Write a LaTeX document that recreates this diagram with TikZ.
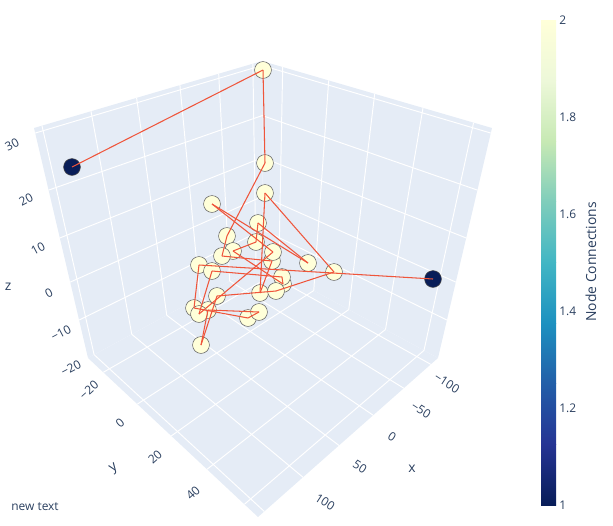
\documentclass[tikz,border=0pt]{standalone}
\usepackage{fontspec}
\setmainfont{Open Sans}
\usetikzlibrary{calc}
\usetikzlibrary{positioning}
\definecolor{pane}{HTML}{E5ECF6}
\definecolor{axtext}{HTML}{2A3F5F}
\definecolor{linkred}{HTML}{EF553B}
\definecolor{cb0}{RGB}{8,29,88}
\definecolor{cb1}{RGB}{37,52,148}
\definecolor{cb2}{RGB}{34,94,168}
\definecolor{cb3}{RGB}{29,145,192}
\definecolor{cb4}{RGB}{65,182,196}
\definecolor{cb5}{RGB}{127,205,187}
\definecolor{cb6}{RGB}{199,233,180}
\definecolor{cb7}{RGB}{237,248,217}
\definecolor{cb8}{RGB}{255,255,217}
\tikzset{
    mynodey/.style = {circle, draw=gray!75!black, line width=0.3pt, fill=cb8, minimum size=9.6pt, inner sep=0pt},
    mynoded/.style = {circle, draw=gray!60!black, line width=0.3pt, fill=cb0, minimum size=9.6pt, inner sep=0pt},
    edger/.style = {-, line width=0.6pt, linkred},
    gridw/.style = {-, line width=0.55pt, white},
    ticklab/.style = {font=\fontsize{6.8pt}{8pt}\selectfont, text=axtext, inner sep=0pt},
    axlab/.style = {font=\fontsize{7.9pt}{9pt}\selectfont, text=axtext, inner sep=0pt}
}

\begin{document}
\begin{tikzpicture}[x=0.02cm, y=-0.02cm]
\useasboundingbox (0,0) rectangle (613,525);
% box corners
\coordinate (lb) at (88,358);
\coordinate (bb) at (263,263);
\coordinate (rb) at (438,358);
\coordinate (ft) at (258,517);
\coordinate (lt) at (34,128);
\coordinate (bt) at (262,61);
\coordinate (rt) at (492,128);
%
\fill[pane] (lb) -- (bb) -- (bt) -- (lt) -- cycle;
\fill[pane] (bb) -- (rb) -- (rt) -- (bt) -- cycle;
\fill[pane] (lb) -- (bb) -- (rb) -- (ft) -- cycle;
% grid
\foreach \t in {0.04,0.19,0.36,0.55,0.75,0.965} {
  \draw[gridw] ($(bb)!\t!(lb)$) -- ($(bt)!\t!(lt)$);
  \draw[gridw] ($(bb)!\t!(lb)$) -- ($(rb)!\t!(ft)$);
}
\foreach \s in {0.09,0.29,0.49,0.70,0.92} {
  \draw[gridw] ($(bb)!\s!(rb)$) -- ($(bt)!\s!(rt)$);
  \draw[gridw] ($(bb)!\s!(rb)$) -- ($(lb)!\s!(ft)$);
}
\foreach \f in {0.022,0.27,0.478,0.67,0.835} {
  \draw[gridw] ($(lt)!\f!(lb)$) -- ($(bt)!\f!(bb)$) -- ($(rt)!\f!(rb)$);
}
% tick labels
\foreach \v/\px/\py in {30/12/145, 20/26/200, 10/38/249, 0/49/293, −10/61/333, −20/71/368}
  \node[ticklab, rotate=28] at (\px,\py) {\v};
\node[axlab] at (8,287) {z};
\foreach \v/\px/\py in {−20/89/390, 0/120/423, 20/155/457, 40/193/493}
  \node[ticklab, rotate=42] at (\px,\py) {\v};
\node[axlab, rotate=35] at (114,469) {y};
\foreach \v/\px/\py in {−100/447/383, −50/421/410, 0/392/437, 50/360/467, 100/325/502}
  \node[ticklab, rotate=-33] at (\px,\py) {\v};
\node[axlab] at (412,469) {x};
% nodes
\node[mynoded] at (72,167) (d1) {};
\node[mynoded] at (433,279) (d2) {};
\node[mynodey] at (263,70) (n1) {};
\node[mynodey] at (265,163) (n2) {};
\node[mynodey] at (265,193) (n3) {};
\node[mynodey] at (212,204) (n4) {};
\node[mynodey] at (258,223) (n5) {};
\node[mynodey] at (227,236) (n6) {};
\node[mynodey] at (256,242) (n7) {};
\node[mynodey] at (233,251) (n8) {};
\node[mynodey] at (222,256) (n9) {};
\node[mynodey] at (272,261) (n11) {};
\node[mynodey] at (273,252) (n10) {};
\node[mynodey] at (199,265) (n12) {};
\node[mynodey] at (212,271) (n13) {};
\node[mynodey] at (308,263) (n14) {};
\node[mynodey] at (334,272) (n15) {};
\node[mynodey] at (283,284) (n17) {};
\node[mynodey] at (282,277) (n16) {};
\node[mynodey] at (217,296) (n18) {};
\node[mynodey] at (260,293) (n19) {};
\node[mynodey] at (276,291) (n20) {};
\node[mynodey] at (194,308) (n21) {};
\node[mynodey] at (208,310) (n23) {};
\node[mynodey] at (199,314) (n22) {};
\node[mynodey] at (248,318) (n24) {};
\node[mynodey] at (259,312) (n25) {};
\node[mynodey] at (201,345) (n26) {};
% links
\draw[edger] (d1.center) -- (n1.center);
\draw[edger] (n1.center) -- (n2.center);
\draw[edger] (n2.center) -- (n6.center);
\draw[edger] (n6.center) -- (n9.center);
\draw[edger] (n9.center) -- (n11.center);
\draw[edger] (n11.center) -- (n19.center);
\draw[edger] (n3.center) -- (n19.center);
\draw[edger] (n3.center) -- (n15.center);
\draw[edger] (n15.center) -- (n20.center);
\draw[edger] (n18.center) -- (n20.center);
\draw[edger] (n26.center) -- (n18.center);
\draw[edger] (n26.center) -- (n23.center);
\draw[edger] (n23.center) -- (n25.center);
\draw[edger] (n24.center) -- (n25.center);
\draw[edger] (n21.center) -- (n24.center);
\draw[edger] (n12.center) -- (n21.center);
\draw[edger] (n12.center) -- (d2.center);
%
\draw[edger] (n4.center) -- (n14.center);
\draw[edger] (n5.center) -- (n14.center);
\draw[edger] (n5.center) -- (n7.center);
\draw[edger] (n7.center) -- (n8.center);
\draw[edger] (n8.center) -- (n17.center);
\draw[edger] (n16.center) -- (n17.center);
\draw[edger] (n13.center) -- (n16.center);
\draw[edger] (n13.center) -- (n22.center);
\draw[edger] (n10.center) -- (n22.center);
\draw[edger] (n4.center) -- (n10.center);
% colour bar
\foreach \c [count=\i from 0, remember=\c as \p (initially cb0)] in {cb1,cb2,cb3,cb4,cb5,cb6,cb7,cb8}
  \shade[bottom color=\p, top color=\c] (541,{505-\i*60.625}) rectangle (556,{505-(\i+1)*60.625});
\foreach \v/\py in {2/20, 1.8/117, 1.6/214, 1.4/311, 1.2/408, 1/505}
  \node[ticklab, anchor=west] at (559,\py) {\v};
\node[axlab, rotate=90] at (591,262) {Node Connections};
\node[ticklab, anchor=west] at (11,507) {new text};
\end{tikzpicture}
\end{document}
